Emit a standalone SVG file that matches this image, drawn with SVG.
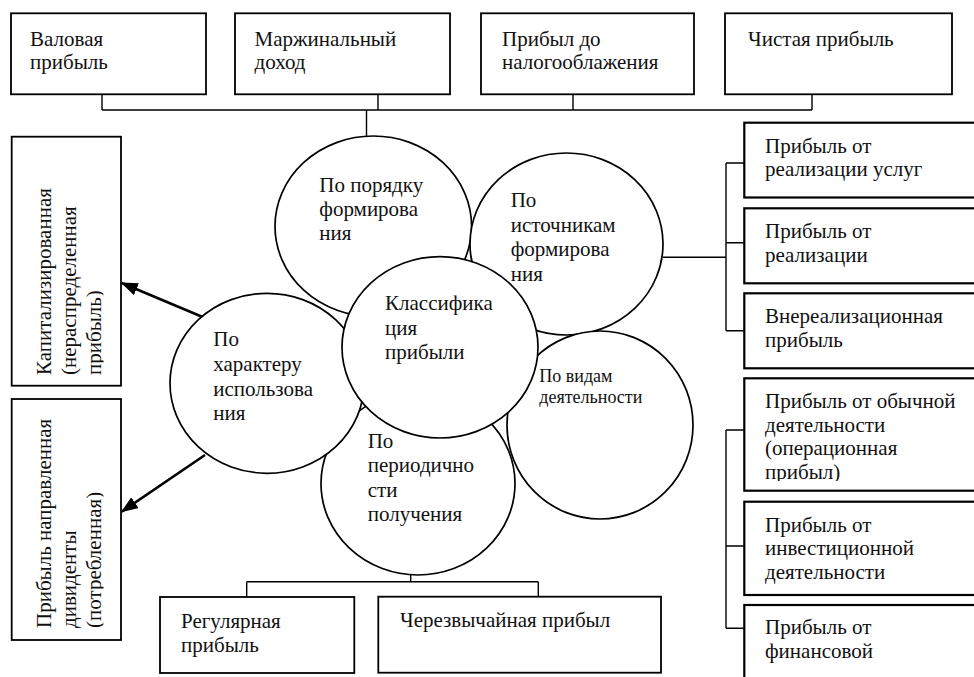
<svg xmlns="http://www.w3.org/2000/svg" width="974" height="677" viewBox="0 0 974 677">
<style>
text{font-family:"Liberation Serif","Times New Roman",serif;font-size:21px;fill:#111}
.box{fill:#fff;stroke:#000;stroke-width:1.8}
.rbox{fill:#fff;stroke:#000;stroke-width:2.2}
.circ{fill:#fff;stroke:#000;stroke-width:1.7}
.con{fill:none;stroke:#000;stroke-width:1.4}
.arr{fill:none;stroke:#000;stroke-width:2.6}
.small{font-size:18px}
</style>
<defs>
<marker id="ah" markerUnits="userSpaceOnUse" markerWidth="17" markerHeight="13" refX="16" refY="6.5" orient="auto">
<path d="M0,0 L17,6.5 L0,13 z" fill="#000"/>
</marker>
<clipPath id="clipL"><rect x="0" y="0" width="103.5" height="677"/></clipPath>
<clipPath id="clipR4"><rect x="744" y="378" width="230" height="103"/></clipPath>
</defs>

<g id="connectors">
<path class="con" d="M102,94 V110 M378,94 V110 M573,94 V110 M812,94 V110 M102,110 H812 M366.5,110 V136"/>
<path class="con" d="M663,257.3 H726 M726,163 V330.7 M726,163 H744 M726,242.7 H744 M726,330.7 H744"/>
<path class="con" d="M726,430 V628.3 M726,430 H744 M726,546 H744 M726,628.3 H744"/>
<path class="con" d="M410.7,575 V581.7 M246.7,581.7 H538.3 M246.7,581.7 V597 M538.3,581.7 V596.7"/>
<line class="arr" x1="205" y1="318" x2="121.7" y2="283" marker-end="url(#ah)"/>
<line class="arr" x1="205" y1="455" x2="121.7" y2="511.7" marker-end="url(#ah)"/>
</g>

<g id="top1"><rect class="box" x="11" y="13.3" width="195" height="81"/><text x="30" y="45.5">Валовая</text><text x="30" y="68.5">прибыль</text></g>
<g id="top2"><rect class="box" x="235" y="13.3" width="215" height="81"/><text x="254.6" y="45.5">Маржинальный</text><text x="254.6" y="68.5">доход</text></g>
<g id="top3"><rect class="box" x="481" y="13.3" width="213" height="81"/><text x="502" y="45.5">Прибыл до</text><text x="502" y="68.5">налогооблажения</text></g>
<g id="top4"><rect class="box" x="725" y="13.3" width="227" height="81"/><text x="748" y="45.5">Чистая прибыль</text></g>

<g id="left1"><rect class="box" x="11.7" y="136.7" width="109.3" height="249"/>
<g clip-path="url(#clipL)"><text transform="translate(51,375) rotate(-90)"><tspan x="0" y="0">Капитализированная</tspan><tspan x="0" y="25">(нераспределенная</tspan><tspan x="0" y="50">прибыль)</tspan></text></g></g>
<g id="left2"><rect class="box" x="11.7" y="399" width="109.3" height="241"/>
<g clip-path="url(#clipL)"><text transform="translate(51,628) rotate(-90)"><tspan x="0" y="0">Прибыль направленная</tspan><tspan x="0" y="25">дивиденты</tspan><tspan x="0" y="50">(потребленная)</tspan></text></g></g>

<g id="r1"><rect class="rbox" x="744.3" y="122.7" width="250" height="74.8"/><text x="765" y="152.5">Прибыль от</text><text x="765" y="176">реализации услуг</text></g>
<g id="r2"><rect class="rbox" x="744.3" y="208.3" width="250" height="75"/><text x="765" y="238">Прибыль от</text><text x="765" y="261.5">реализации</text></g>
<g id="r3"><rect class="rbox" x="744.3" y="293.3" width="250" height="75"/><text x="765" y="323.3">Внереализационная</text><text x="765" y="346.8">прибыль</text></g>
<g id="r4"><rect class="rbox" x="744.3" y="378.3" width="250" height="112.4"/>
<g clip-path="url(#clipR4)"><text x="765" y="408.3">Прибыль от обычной</text><text x="765" y="431.8">деятельности</text><text x="765" y="455.3">(операционная</text><text x="765" y="478.8">прибыл)</text></g></g>
<g id="r5"><rect class="rbox" x="744.3" y="501.7" width="250" height="93.3"/><text x="765" y="531.5">Прибыль от</text><text x="765" y="555">инвестиционной</text><text x="765" y="578.5">деятельности</text></g>
<g id="r6"><rect class="rbox" x="744.3" y="605" width="250" height="100"/><text x="765" y="634">Прибыль от</text><text x="765" y="657.5">финансовой</text></g>

<g id="b1"><rect class="box" x="160" y="597" width="194.3" height="76"/><text x="181" y="628.3">Регулярная</text><text x="181" y="651.7">прибыль</text></g>
<g id="b2"><rect class="box" x="378.3" y="596.7" width="282.7" height="76"/><text x="400" y="626.7">Черезвычайная прибыл</text></g>

<g id="c1"><ellipse class="circ" cx="373.3" cy="226.3" rx="98.3" ry="90.3"/><text x="319.3" y="192">По порядку</text><text x="319.3" y="216">формирова</text><text x="319.3" y="240">ния</text></g>
<g id="c2"><ellipse class="circ" cx="566.5" cy="244" rx="96.5" ry="91"/><text x="510.7" y="207">По</text><text x="510.7" y="231.5">источникам</text><text x="510.7" y="256">формирова</text><text x="510.7" y="280.5">ния</text></g>
<g id="c4"><ellipse class="circ" cx="600" cy="425" rx="93" ry="94"/><text class="small" x="539.3" y="381.7">По видам</text><text class="small" x="539.3" y="403.3">деятельности</text></g>
<g id="c6"><ellipse class="circ" cx="418" cy="483.5" rx="97" ry="91.5"/><text x="367.7" y="447.5">По</text><text x="367.7" y="472">периодично</text><text x="367.7" y="496.5">сти</text><text x="367.7" y="521">получения</text></g>
<g id="c5"><ellipse class="circ" cx="267" cy="383.3" rx="97" ry="90"/><text x="213.3" y="346">По</text><text x="213.3" y="371">характеру</text><text x="213.3" y="396">использова</text><text x="213.3" y="420">ния</text></g>
<g id="c3"><ellipse class="circ" cx="440" cy="347.3" rx="98" ry="90.7"/><text x="385" y="310">Классифика</text><text x="385" y="334.5">ция</text><text x="385" y="359">прибыли</text></g>
</svg>
